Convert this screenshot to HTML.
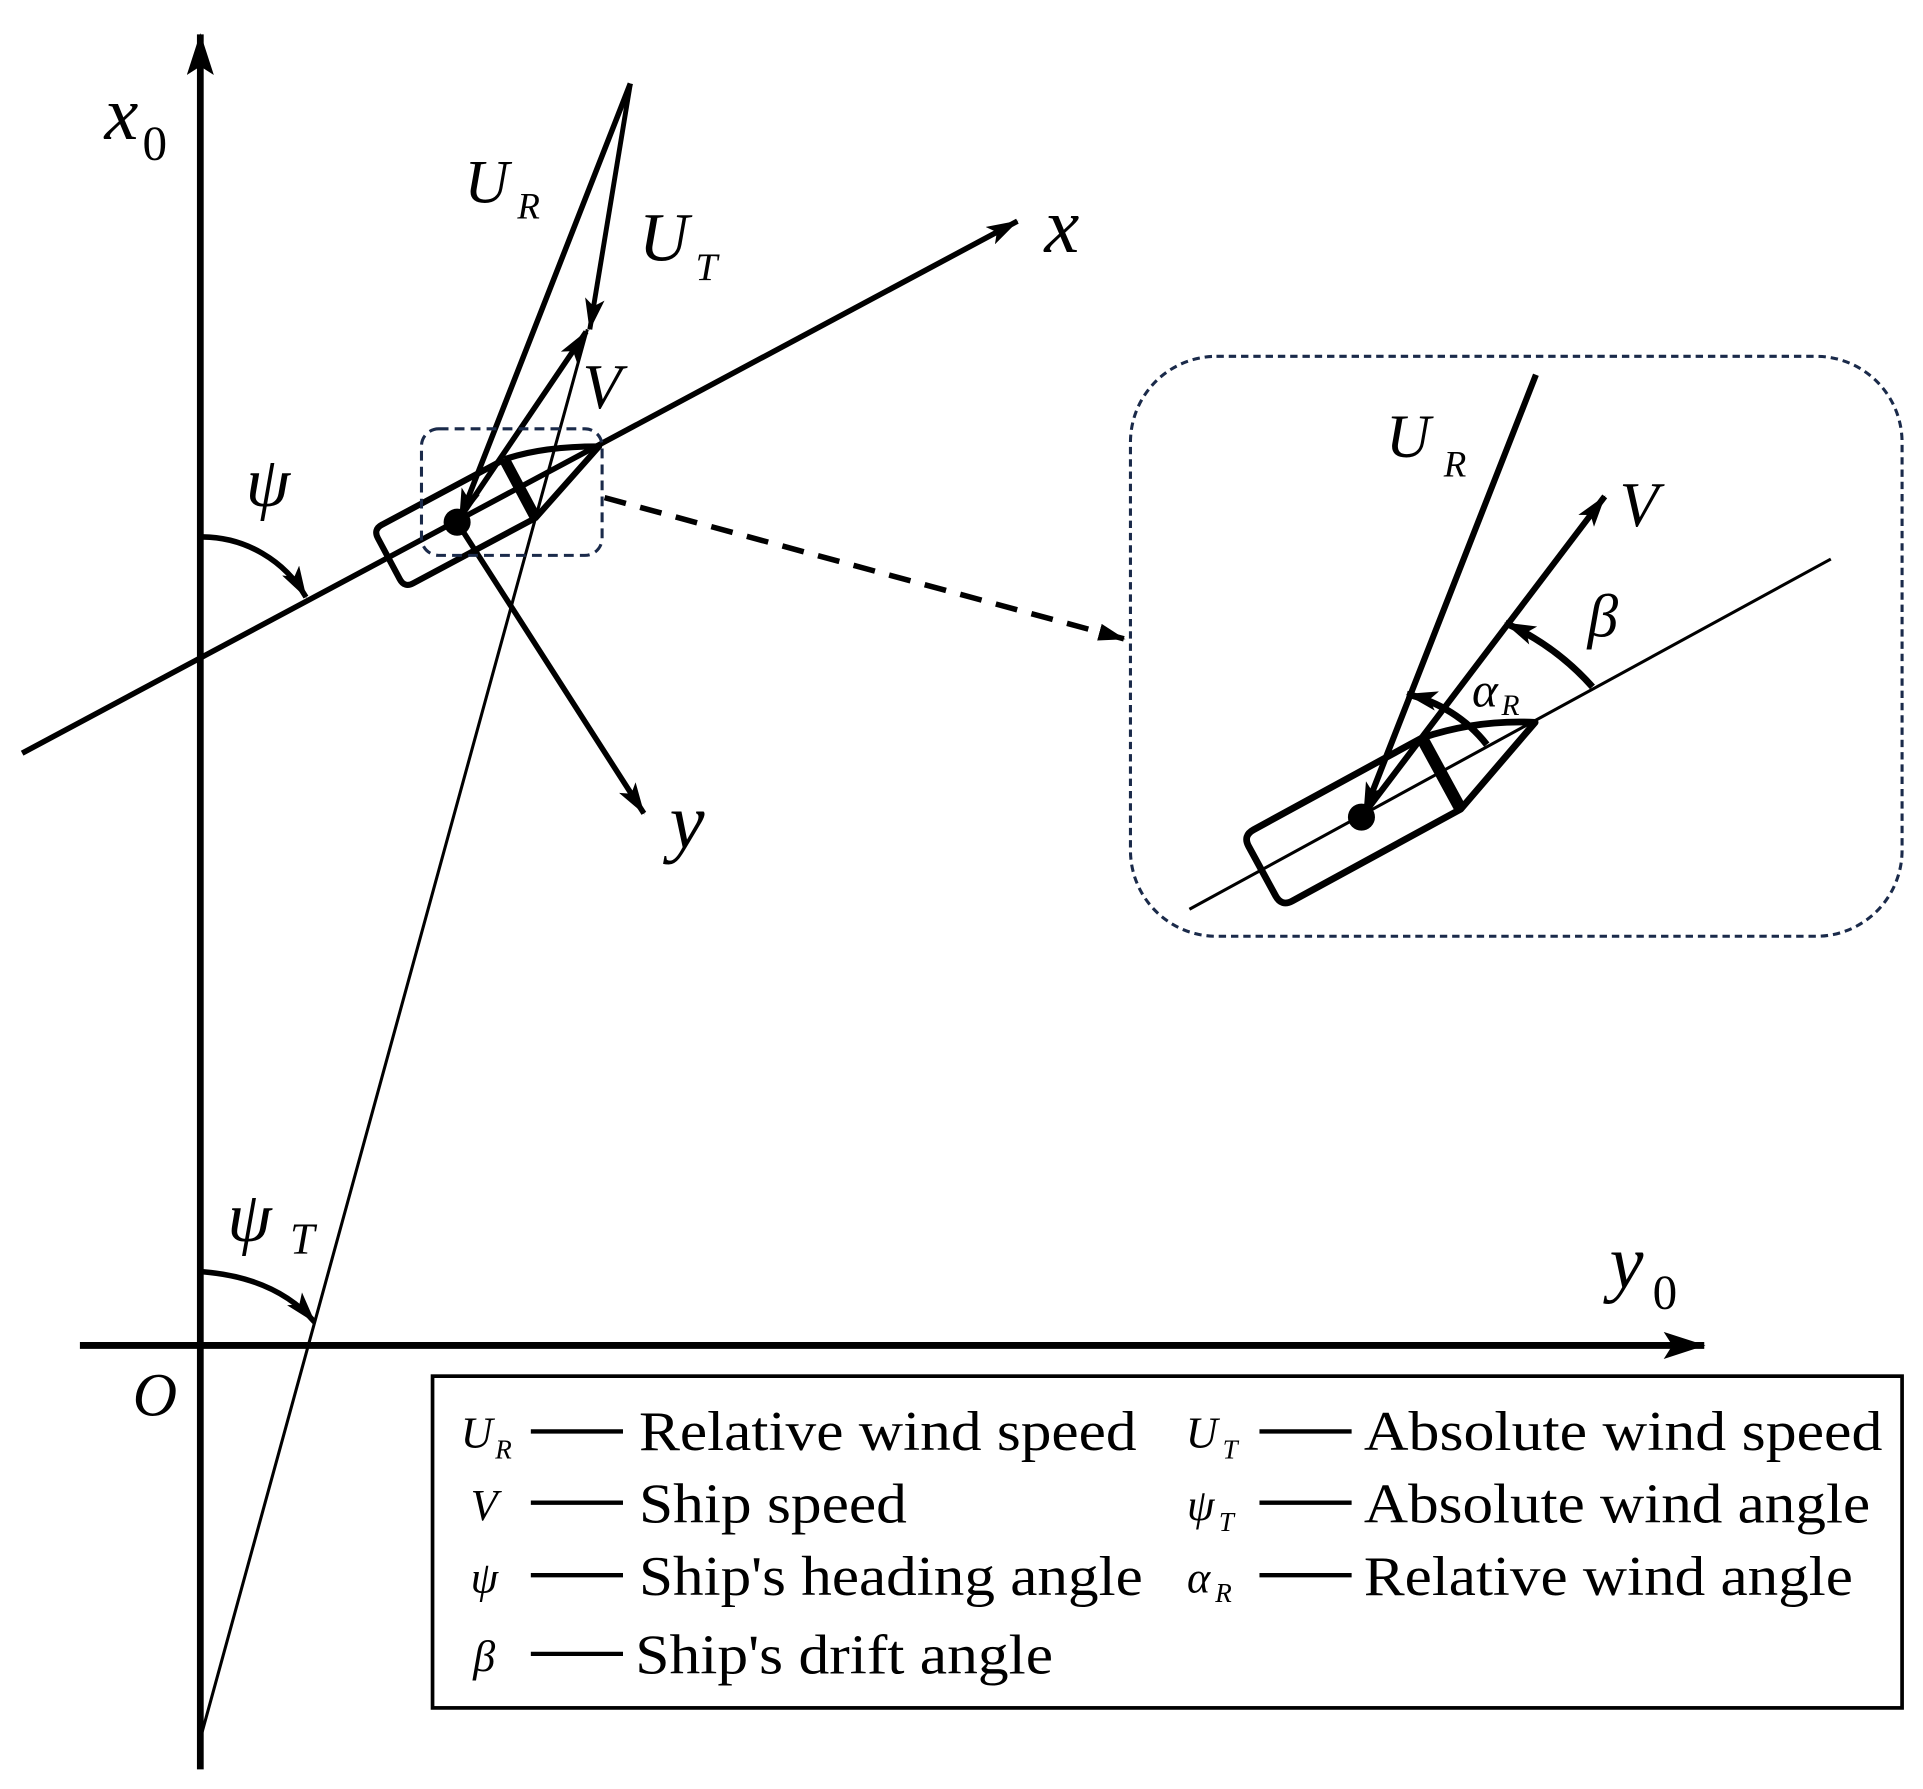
<!DOCTYPE html>
<html><head><meta charset="utf-8"><style>html,body{margin:0;padding:0;background:#fff}svg{display:block}text{font-family:"Liberation Serif",serif}</style></head><body>
<svg width="1923" height="1789" viewBox="0 0 1565 1456" xmlns="http://www.w3.org/2000/svg" font-family="'Liberation Serif', serif">
<defs>
<marker id="a" viewBox="0 0 26 16" refX="25" refY="8" markerWidth="26" markerHeight="16" markerUnits="userSpaceOnUse" orient="auto"><path d="M0,0 L26,8 L0,16 L6,8 Z" fill="#000"/></marker>
<marker id="b" viewBox="0 0 34 22" refX="33" refY="11" markerWidth="34" markerHeight="22" markerUnits="userSpaceOnUse" orient="auto"><path d="M0,0 L34,11 L0,22 L7,11 Z" fill="#000"/></marker>
<marker id="c" viewBox="0 0 22 14" refX="21" refY="7" markerWidth="22" markerHeight="14" markerUnits="userSpaceOnUse" orient="auto"><path d="M0,0 L22,7 L0,14 Z" fill="#000"/></marker>
</defs>
<g stroke="#000" fill="none" stroke-linecap="butt">
<line x1="163" y1="1440" x2="163" y2="28" stroke-width="5.5" marker-end="url(#b)"/>
<line x1="65" y1="1095" x2="1387" y2="1095" stroke-width="5.5" marker-end="url(#b)"/>
<line x1="18" y1="613" x2="828" y2="180" stroke-width="4.5" marker-end="url(#a)"/>
<line x1="163" y1="1415" x2="478" y2="268" stroke-width="2.5"/>
<line x1="372" y1="425" x2="524" y2="662" stroke-width="4.5" marker-end="url(#a)"/>
<line x1="513" y1="68" x2="480" y2="268" stroke-width="4" marker-end="url(#a)"/>
<line x1="513" y1="68" x2="374" y2="423" stroke-width="4.5" marker-end="url(#a)"/>
<line x1="372" y1="425" x2="477" y2="270" stroke-width="4.5" marker-end="url(#a)"/>
<g transform="translate(372,425) rotate(-28.1)" stroke-width="5">
<path d="M58,-27 L-55,-27 Q-63,-27 -63,-19 L-63,19 Q-63,27 -55,27 L58,27 L131,0 Q90,-22 58,-27" stroke-linejoin="round"/>
<line x1="58" y1="-27" x2="58" y2="27" stroke-width="9"/>
</g>
<circle cx="372" cy="425" r="11" fill="#000" stroke="none"/>
<path d="M165,437 A98,98 0 0 1 249,486" stroke-width="4.5" marker-end="url(#a)"/>
<path d="M165,1035 Q225,1040 256,1076" stroke-width="4.5" marker-end="url(#a)"/>
<rect x="343" y="349" width="147" height="103" rx="14" stroke="#1a2a4a" stroke-width="2.5" stroke-dasharray="8,5"/>
<line x1="492" y1="405" x2="915" y2="520" stroke-width="4.5" stroke-dasharray="18,12" marker-end="url(#c)"/>
<rect x="920" y="290" width="628" height="472" rx="70" stroke="#1a2a4a" stroke-width="2.5" stroke-dasharray="6,4"/>
<line x1="968" y1="740" x2="1490" y2="455" stroke-width="2.5"/>
<line x1="1250" y1="305" x2="1110" y2="662" stroke-width="5" marker-end="url(#a)"/>
<line x1="1108" y1="665" x2="1306" y2="404" stroke-width="5" marker-end="url(#a)"/>
<g transform="translate(1108,665) rotate(-28.6)" stroke-width="5.5">
<path d="M74,-33 L-82,-33 Q-92,-33 -92,-23 L-92,23 Q-92,33 -82,33 L74,33 L161,0 Q120,-25 74,-33" stroke-linejoin="round"/>
<line x1="74" y1="-33" x2="74" y2="33" stroke-width="10"/>
</g>
<circle cx="1108" cy="665" r="11" fill="#000" stroke="none"/>
<path d="M1296,559 A210,210 0 0 0 1225,507" stroke-width="5.5" marker-end="url(#a)"/>
<path d="M1210,606 A115,115 0 0 0 1145,565" stroke-width="5.5" marker-end="url(#a)"/>
<rect x="352" y="1120" width="1196" height="270" stroke-width="3"/>
<g stroke-width="3.5">
<line x1="432" y1="1165" x2="507" y2="1165"/>
<line x1="432" y1="1223" x2="507" y2="1223"/>
<line x1="432" y1="1282" x2="507" y2="1282"/>
<line x1="432" y1="1346" x2="507" y2="1346"/>
<line x1="1025" y1="1165" x2="1100" y2="1165"/>
<line x1="1025" y1="1223" x2="1100" y2="1223"/>
<line x1="1025" y1="1282" x2="1100" y2="1282"/>
</g>
</g>
<g fill="#000">
<text x="85" y="113" font-size="62" font-style="italic">x</text><text x="116" y="130" font-size="40">0</text>
<text x="1310" y="1048" font-size="62" font-style="italic">y</text><text x="1345" y="1065" font-size="40">0</text>
<text x="108" y="1152" font-size="50" font-style="italic">O</text>
<text x="850" y="205" font-size="64" font-style="italic">x</text>
<text x="545" y="690" font-size="64" font-style="italic">y</text>
<text x="200" y="412" font-size="58" font-style="italic">ψ</text>
<text x="185" y="1010" font-size="58" font-style="italic">ψ</text><text x="236" y="1020" font-size="36" font-style="italic">T</text>
<text x="378" y="165" font-size="50" font-style="italic">U</text><text x="421" y="178" font-size="30" font-style="italic">R</text>
<text x="520" y="212" font-size="56" font-style="italic">U</text><text x="566" y="228" font-size="32" font-style="italic">T</text>
<text x="474" y="332" font-size="52" font-style="italic">V</text>
<text x="1128" y="372" font-size="50" font-style="italic">U</text><text x="1175" y="388" font-size="30" font-style="italic">R</text>
<text x="1318" y="428" font-size="52" font-style="italic">V</text>
<text x="1292" y="518" font-size="50" font-style="italic">β</text>
<text x="1198" y="575" font-size="40" font-style="italic">α</text><text x="1222" y="582" font-size="24" font-style="italic">R</text>
<text x="375" y="1178" font-size="36" font-style="italic">U</text><text x="403" y="1187" font-size="22" font-style="italic">R</text>
<text x="383" y="1237" font-size="36" font-style="italic">V</text>
<text x="383" y="1296" font-size="36" font-style="italic">ψ</text>
<text x="385" y="1360" font-size="36" font-style="italic">β</text>
<text x="965" y="1178" font-size="36" font-style="italic">U</text><text x="995" y="1187" font-size="22" font-style="italic">T</text>
<text x="966" y="1237" font-size="36" font-style="italic">ψ</text><text x="992" y="1246" font-size="22" font-style="italic">T</text>
<text x="966" y="1296" font-size="36" font-style="italic">α</text><text x="989" y="1304" font-size="22" font-style="italic">R</text>
<g font-size="46">
<text x="520" y="1180" textLength="405" lengthAdjust="spacingAndGlyphs">Relative wind speed</text>
<text x="520" y="1239" textLength="218" lengthAdjust="spacingAndGlyphs">Ship speed</text>
<text x="520" y="1298" textLength="410" lengthAdjust="spacingAndGlyphs">Ship's heading angle</text>
<text x="517" y="1362" textLength="340" lengthAdjust="spacingAndGlyphs">Ship's drift angle</text>
<text x="1110" y="1180" textLength="422" lengthAdjust="spacingAndGlyphs">Absolute wind speed</text>
<text x="1110" y="1239" textLength="412" lengthAdjust="spacingAndGlyphs">Absolute wind angle</text>
<text x="1110" y="1298" textLength="398" lengthAdjust="spacingAndGlyphs">Relative wind angle</text>
</g>
</g>
</svg>
</body></html>
